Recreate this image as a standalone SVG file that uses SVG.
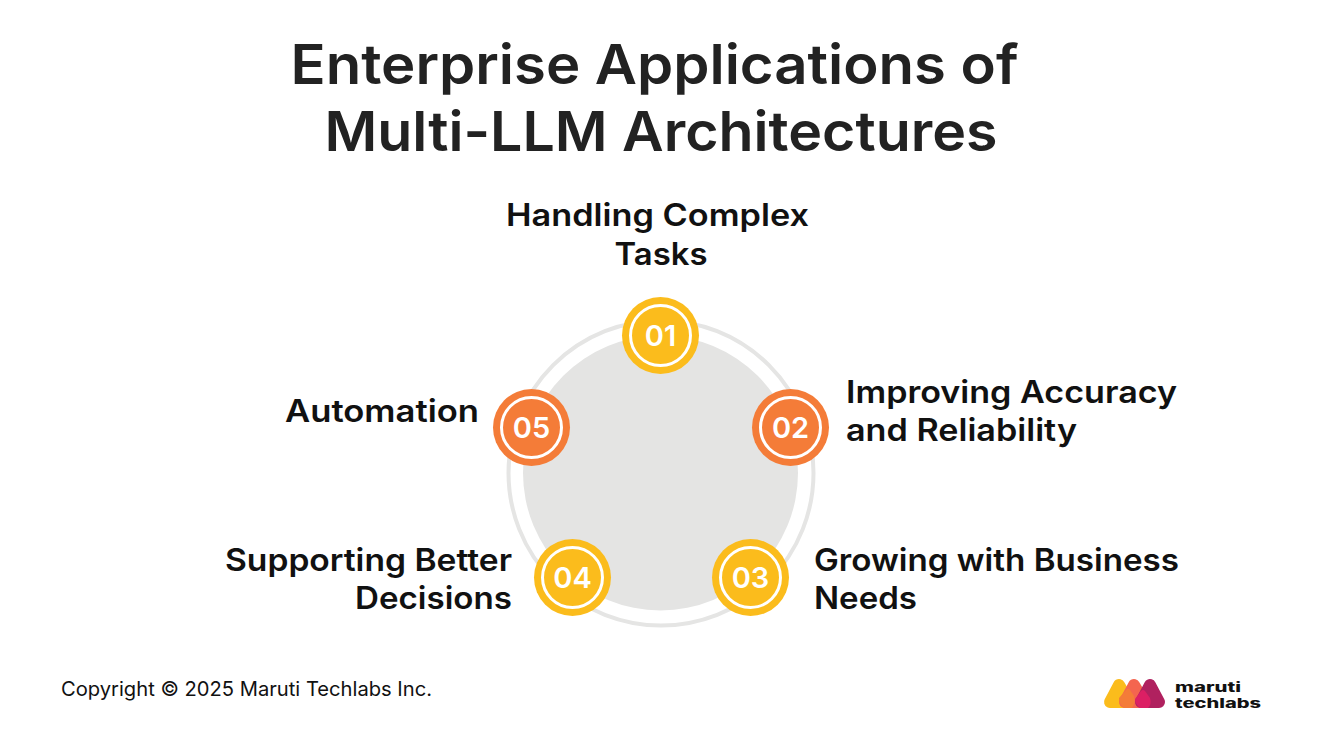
<svg xmlns="http://www.w3.org/2000/svg" width="1322" height="736" viewBox="0 0 1322 736">
<style>
text{font-family:"Inter","Noto Sans","Liberation Sans",sans-serif;}
.title{font-size:55px;font-weight:600;fill:#222222;text-anchor:middle;}
.label{font-size:31px;font-weight:600;fill:#111111;}
.num{font-size:29px;font-weight:600;fill:#ffffff;text-anchor:middle;}
.foot{font-size:20px;font-weight:400;fill:#111111;}
.ring{fill:none;stroke:#ffffff;stroke-width:3;}
.y{fill:#fbbc1c;}
.o{fill:#f47c38;}
.logo{font-size:13px;font-weight:800;fill:#111111;}
.tri{stroke-width:12;stroke-linejoin:round;}
</style>
<rect width="1322" height="736" fill="#ffffff"/>
<g id="title">
<text class="title" x="654.5" y="84" textLength="728" lengthAdjust="spacingAndGlyphs">Enterprise Applications of</text>
<text class="title" x="661" y="151" textLength="673" lengthAdjust="spacingAndGlyphs">Multi-LLM Architectures</text>
</g>
<g id="hub">
<circle cx="661" cy="473" r="152.5" fill="none" stroke="#e5e5e4" stroke-width="4"/>
<circle cx="660.5" cy="473" r="137.5" fill="#e4e4e3"/>
</g>
<g id="connectors"></g>
<g id="node-01">
<circle class="y" cx="660.5" cy="335.5" r="38.5"/><circle class="ring" cx="660.5" cy="335.5" r="30"/>
<text class="num" x="660.5" y="346">01</text>
<text class="label" x="657.5" y="226" text-anchor="middle" textLength="303" lengthAdjust="spacingAndGlyphs">Handling Complex</text>
<text class="label" x="661" y="265" text-anchor="middle" textLength="93" lengthAdjust="spacingAndGlyphs">Tasks</text>
</g>
<g id="node-02">
<circle class="o" cx="790.5" cy="427.5" r="38.5"/><circle class="ring" cx="790.5" cy="427.5" r="30"/>
<text class="num" x="790.5" y="438">02</text>
<text class="label" x="846" y="403" textLength="331" lengthAdjust="spacingAndGlyphs">Improving Accuracy</text>
<text class="label" x="846" y="441" textLength="231" lengthAdjust="spacingAndGlyphs">and Reliability</text>
</g>
<g id="node-03">
<circle class="y" cx="750.5" cy="577.5" r="38.5"/><circle class="ring" cx="750.5" cy="577.5" r="30"/>
<text class="num" x="750.5" y="588">03</text>
<text class="label" x="814" y="571" textLength="365" lengthAdjust="spacingAndGlyphs">Growing with Business</text>
<text class="label" x="814" y="609" textLength="103" lengthAdjust="spacingAndGlyphs">Needs</text>
</g>
<g id="node-04">
<circle class="y" cx="572.5" cy="577.5" r="38.5"/><circle class="ring" cx="572.5" cy="577.5" r="30"/>
<text class="num" x="572.5" y="588">04</text>
<text class="label" x="225" y="571" textLength="287" lengthAdjust="spacingAndGlyphs">Supporting Better</text>
<text class="label" x="355" y="609" textLength="157" lengthAdjust="spacingAndGlyphs">Decisions</text>
</g>
<g id="node-05">
<circle class="o" cx="531.5" cy="427.5" r="38.5"/><circle class="ring" cx="531.5" cy="427.5" r="30"/>
<text class="num" x="531.5" y="438">05</text>
<text class="label" x="285" y="422" textLength="194" lengthAdjust="spacingAndGlyphs">Automation</text>
</g>
<g id="footer">
<text class="foot" x="61" y="696" textLength="371" lengthAdjust="spacingAndGlyphs">Copyright © 2025 Maruti Techlabs Inc.</text>
</g>
<g id="logo">
<path class="tri" d="M1119 685 L1110 702 L1129 702Z" fill="#fbbc1c" stroke="#fbbc1c"/>
<path class="tri" d="M1134 685 L1125 702 L1144 702Z" fill="#f4654f" stroke="#f4654f"/>
<path d="M1119 698 L1126 690 Q1128 688 1130 690 L1134 696 Q1136 703 1132 708 L1124 708 Q1119 704 1119 698Z" fill="#f47c38"/>
<path class="tri" d="M1150 685 L1141 702 L1159 702Z" fill="#b0215f" stroke="#b0215f"/>
<path d="M1135 699 L1141 691 Q1143 689 1145 691 L1150 698 Q1152 704 1148 708 L1140 708 Q1135 704 1135 699Z" fill="#dc1f64"/>
<text class="logo" x="1175" y="692" textLength="66" lengthAdjust="spacingAndGlyphs">maruti</text>
<text class="logo" x="1175" y="708" textLength="86" lengthAdjust="spacingAndGlyphs">techlabs</text>
</g>
</svg>
